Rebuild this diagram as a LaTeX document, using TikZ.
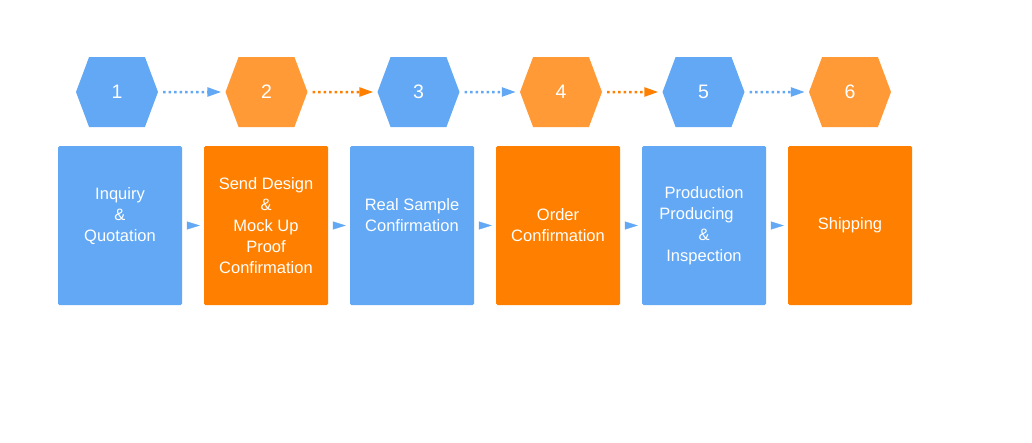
\documentclass[tikz,border=0pt]{standalone}
\usepackage{fontspec}
\setmainfont{Liberation Sans}
\usetikzlibrary{shapes.symbols, arrows.meta}
\definecolor{StepBlue}{HTML}{62A8F5}
\definecolor{StepOrange}{HTML}{FF8000}
\definecolor{HexOrange}{HTML}{FF9A36}

\begin{document}
\begin{tikzpicture}[x=1pt, y=-1pt,
	hex/.style={signal, signal to=east and west, signal pointer angle=139, minimum width=82pt, minimum height=70pt, inner sep=0pt, text=white, font=\fontsize{19.5}{20}\selectfont},
	card/.style={rectangle, rounded corners=1.5pt, minimum width=124pt, minimum height=159pt, inner sep=0pt, text=white, align=center, font=\fontsize{16.5}{21}\selectfont},
	link/.style={line width=2.5pt, dash pattern=on 2.5pt off 3pt, shorten <=5pt, shorten >=4pt, -{Triangle[length=14pt, width=9pt]}},
	tip/.style={StepBlue, shorten <=5pt, shorten >=4pt, -{Triangle[length=13pt, width=8pt]}}]
	\useasboundingbox[fill=white] (0,0) rectangle (1032,442);

	\node[hex, fill=StepBlue] (h1) at (117,92) {1};
	\node[hex, fill=HexOrange] (h2) at (266.5,92) {2};
	\node[hex, fill=StepBlue] (h3) at (418.5,92) {3};
	\node[hex, fill=HexOrange] (h4) at (561,92) {4};
	\node[hex, fill=StepBlue] (h5) at (703.5,92) {5};
	\node[hex, fill=HexOrange] (h6) at (850,92) {6};

	\draw[link, StepBlue] (h1) -- (h2);
	\draw[link, StepOrange] (h2) -- (h3);
	\draw[link, StepBlue] (h3) -- (h4);
	\draw[link, StepOrange] (h4) -- (h5);
	\draw[link, StepBlue] (h5) -- (h6);

	\node[card, fill=StepBlue] (b1) at (120,225.5) {Inquiry\\\&\\Quotation\\~};
	\node[card, fill=StepOrange] (b2) at (266,225.5) {Send Design\\\&\\Mock Up\\Proof\\Confirmation};
	\node[card, fill=StepBlue] (b3) at (412,225.5) {Real Sample\\Confirmation\\~};
	\node[card, fill=StepOrange] (b4) at (558,225.5) {Order\\Confirmation};
	\node[card, fill=StepBlue] (b5) at (704,225.5) {Production\\Producing\hspace*{15pt}\mbox{}\\\&\\Inspection};
	\node[card, fill=StepOrange] (b6) at (850,225.5) {Shipping};

	\draw[tip] (b1) -- (b2);
	\draw[tip] (b2) -- (b3);
	\draw[tip] (b3) -- (b4);
	\draw[tip] (b4) -- (b5);
	\draw[tip] (b5) -- (b6);
\end{tikzpicture}
\end{document}
